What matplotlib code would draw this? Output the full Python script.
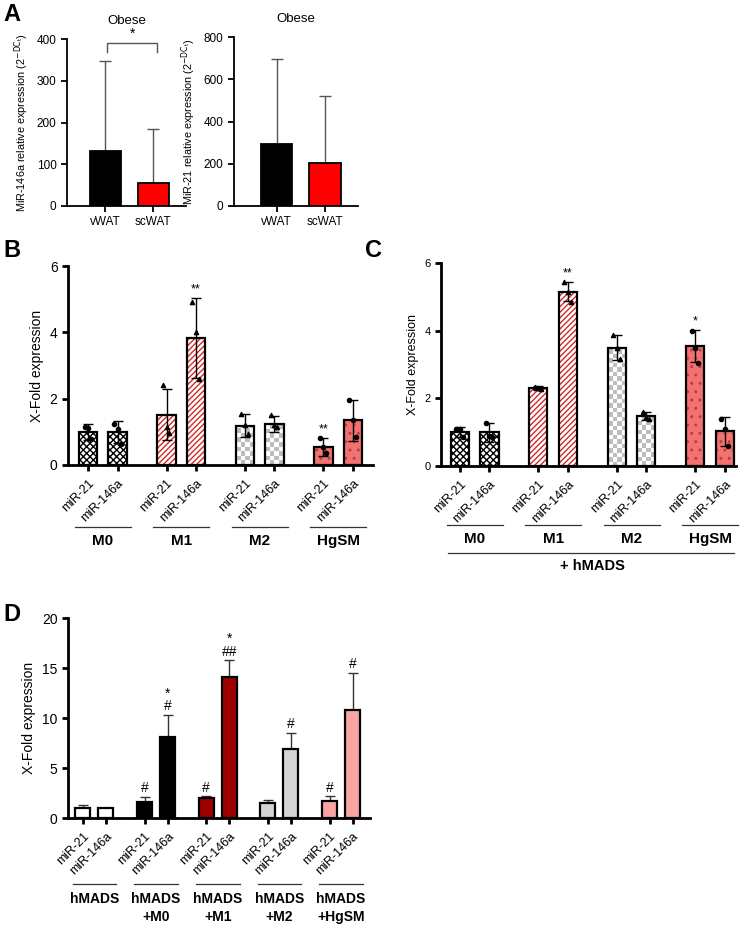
import matplotlib.pyplot as plt
import matplotlib.transforms as mtransforms
import numpy as np

plt.rcParams['font.family'] = ['Liberation Sans', 'DejaVu Sans']
plt.rcParams['hatch.linewidth'] = 1.0

W, H = 746, 926

# ---- panel A data (obese patients)
tissues = ['vWAT', 'scWAT']
a_colors = ['black', '#ff0000']
mir146_obese = [132, 55]
mir146_obese_err = [215, 130]
mir21_obese = [295, 205]
mir21_obese_err = [400, 315]

# ---- panel B / C data (macrophage conditioned)
mirs = ['miR-21', 'miR-146a']
cells = ['M0', 'M1', 'M2', 'HgSM']
b_mean = [[1.0, 1.0], [1.52, 3.83], [1.18, 1.25], [0.55, 1.35]]
b_sd = [[0.24, 0.33], [0.77, 1.2], [0.35, 0.24], [0.27, 0.62]]
b_pts = [[[1.14, 1.13, 0.77], [1.25, 1.1, 0.62]],
         [[2.4, 1.15, 0.95], [4.9, 4.0, 2.6]],
         [[1.55, 1.2, 0.92], [1.5, 1.2, 1.15]],
         [[0.8, 0.55, 0.35], [1.97, 1.35, 0.85]]]
b_stars = [['', ''], ['', '**'], ['', ''], ['**', '']]

c_mean = [[1.0, 1.0], [2.3, 5.15], [3.5, 1.48], [3.55, 1.02]]
c_sd = [[0.15, 0.28], [0.05, 0.28], [0.37, 0.13], [0.48, 0.43]]
c_pts = [[[1.1, 1.1, 0.85], [1.28, 0.9, 0.85]],
         [[2.33, 2.3, 2.28], [5.45, 5.15, 4.85]],
         [[3.87, 3.5, 3.15], [1.6, 1.45, 1.4]],
         [[4.0, 3.5, 3.05], [1.4, 1.1, 0.6]]]
c_stars = [['', ''], ['', '**'], ['', ''], ['*', '']]

# ---- panel D data (hMADS co-culture)
d_groups = ['hMADS', 'hMADS\n+M0', 'hMADS\n+M1', 'hMADS\n+M2', 'hMADS\n+HgSM']
d_colors = ['white', 'black', '#9e0000', '#d4d4d4', '#f9a3a3']
d_mean = [[1.0, 1.0], [1.6, 8.1], [2.0, 14.1], [1.55, 6.9], [1.75, 10.8]]
d_err = [[0.3, 0.05], [0.55, 2.2], [0.2, 1.7], [0.3, 1.6], [0.45, 3.7]]
d_marks = [['', ''], ['#', '*\n#'], ['#', '*\n##'], ['', '#'], ['#', '#']]

cell_style = {
    'M0': dict(face='white', hatch='xxxxx', hc='black', marker='o'),
    'M1': dict(face='white', hatch='//////', hc='#d02a2a', marker='^'),
    'M2': dict(face='white', hatch=None, hc='#a8a8a8', marker='^'),
    'HgSM': dict(face='#f27272', hatch='..', hc='#b84040', marker='o'),
}

fig = plt.figure(figsize=(W / 100, H / 100), dpi=100)


def axes_px(x0, y0, x1, y1):
    return fig.add_axes([x0 / W, 1 - y1 / H, (x1 - x0) / W, (y1 - y0) / H])


def fy(ypx):
    return 1 - ypx / H


def style_axes(ax, lw=1.5, fs=8):
    for s in ['top', 'right']:
        ax.spines[s].set_visible(False)
    for s in ['left', 'bottom']:
        ax.spines[s].set_linewidth(lw)
    ax.tick_params(width=lw, length=4, labelsize=fs)


def checker(ax, patch, px_per_x, px_per_y, sq=4.5):
    # grey / white checkerboard fill clipped to the bar
    x0, y0 = patch.get_x(), patch.get_y()
    w, h = patch.get_width(), patch.get_height()
    nx = max(1, int(round(w * px_per_x / sq)))
    ny = max(1, int(round(h * px_per_y / sq)))
    pat = np.indices((ny, nx)).sum(axis=0) % 2
    im = ax.imshow(pat, cmap=plt.matplotlib.colors.ListedColormap(['white', '#bdbdbd']),
                   extent=(x0, x0 + w, y0, y0 + ny * sq / px_per_y), origin='lower',
                   interpolation='nearest', aspect='auto', zorder=2)
    im.set_clip_path(patch)


# ================= A
for i, (vals, err, top, step, lab, box) in enumerate([
        (mir146_obese, mir146_obese_err, 400, 100, 'MiR-146a', (67, 39, 186, 206)),
        (mir21_obese, mir21_obese_err, 800, 200, 'MiR-21', (234, 37, 358, 206))]):
    ax = axes_px(*box)
    x = np.arange(len(tissues))
    ax.bar(x, vals, 0.65, color=a_colors, edgecolor='black', linewidth=1.3, zorder=2)
    ax.errorbar(x, vals, yerr=[[0, 0], err], fmt='none', ecolor='#555555',
                elinewidth=1, capsize=4, capthick=1, zorder=1)
    ax.set_ylim(0, top)
    ax.set_yticks(np.arange(0, top + 1, step))
    ax.set_xticks(x)
    ax.set_xticklabels(tissues)
    ax.set_xlim(-0.8 if i == 0 else -0.88, 1.68)
    style_axes(ax, lw=1.3, fs=8.5)
    ax.set_title('Obese', fontsize=9.5, pad=11)
    ax.set_ylabel(lab + r' relative expression (2$^{\mathrm{-DC_t}}$)', fontsize=7.8,
                  labelpad=4)
    if i == 0:
        ax.plot([0.04, 0.04, 1.08, 1.08], [368, 390, 390, 368], color='#555555',
                lw=1, clip_on=False)
        ax.text(0.56, 396, '*', ha='center', va='bottom', fontsize=10)

fig.text(3 / W, fy(3), 'A', fontsize=17, fontweight='bold', va='top')


# ================= B and C
def macro_panel(ax, mean, sd, pts, stars, xlim, ylabel_fs, tick_fs, box):
    gap = 2.66
    ax.set_xlim(*xlim)
    ax.set_ylim(0, 6)
    ppx = (box[2] - box[0]) / (xlim[1] - xlim[0])
    ppy = (box[3] - box[1]) / 6
    xs_all = []
    for g, cell in enumerate(cells):
        st = cell_style[cell]
        for j in range(2):
            x = g * gap + j
            xs_all.append(x)
            if st['hatch'] is None:
                bars = ax.bar(x, mean[g][j], 0.62, color='none', linewidth=0, zorder=2)
                checker(ax, bars[0], ppx, ppy)
            else:
                ax.bar(x, mean[g][j], 0.62, color=st['face'], edgecolor=st['hc'],
                       hatch=st['hatch'], linewidth=0, zorder=2)
            ax.bar(x, mean[g][j], 0.62, color='none', edgecolor='black',
                   linewidth=1.6, zorder=3)
            ax.errorbar(x, mean[g][j], yerr=sd[g][j], fmt='none', ecolor='black',
                        elinewidth=1, capsize=3.5, capthick=1, zorder=4)
            ax.scatter(x + np.array([-0.12, 0.0, 0.1]), pts[g][j], s=9,
                       marker=st['marker'], color='black', zorder=5)
            if stars[g][j]:
                ax.text(x, mean[g][j] + sd[g][j] + 0.08, stars[g][j],
                        ha='center', va='bottom', fontsize=9)
    ax.set_xticks(xs_all)
    ax.set_xticklabels(mirs * len(cells), rotation=45, ha='right',
                       rotation_mode='anchor')
    ax.set_yticks([0, 2, 4, 6])
    style_axes(ax, lw=2, fs=tick_fs)
    ax.tick_params(axis='x', labelsize=9, pad=5)
    ax.set_ylabel('X-Fold expression', fontsize=ylabel_fs)
    return gap


boxB = (68, 266, 373, 465)
axB = axes_px(*boxB)
gap = macro_panel(axB, b_mean, b_sd, b_pts, b_stars, (-0.68, 9.66), 10, 10, boxB)
trB = mtransforms.blended_transform_factory(axB.transData, fig.transFigure)
for g, cell in enumerate(cells):
    c = g * gap + 0.5
    axB.plot([c - 0.95, c + 0.95], [fy(527), fy(527)], color='#333333', lw=0.9,
             transform=trB, clip_on=False)
    axB.text(c, fy(541), cell, transform=trB, ha='center', va='center',
             fontsize=11, fontweight='bold')
fig.text(3 / W, fy(239), 'B', fontsize=17, fontweight='bold', va='top')

boxC = (441, 263, 736, 466)
axC = axes_px(*boxC)
gap = macro_panel(axC, c_mean, c_sd, c_pts, c_stars, (-0.64, 9.36), 9, 8, boxC)
trC = mtransforms.blended_transform_factory(axC.transData, fig.transFigure)
for g, cell in enumerate(cells):
    c = g * gap + 0.5
    axC.plot([c - 0.95, c + 0.95], [fy(525), fy(525)], color='#333333', lw=0.9,
             transform=trC, clip_on=False)
    axC.text(c, fy(539), cell, transform=trC, ha='center', va='center',
             fontsize=11, fontweight='bold')
axC.plot([-0.4, 3 * gap + 1.3], [fy(553), fy(553)], color='#333333', lw=0.9,
         transform=trC, clip_on=False)
axC.text((3 * gap + 1) / 2, fy(566), '+ hMADS', transform=trC, ha='center',
         va='center', fontsize=10.5, fontweight='bold')
fig.text(365 / W, fy(239), 'C', fontsize=17, fontweight='bold', va='top')

# ================= D
axD = axes_px(68, 618, 370, 818)
dgap = 2.68
xsD = []
for g in range(len(d_groups)):
    for j in range(2):
        x = g * dgap + j
        xsD.append(x)
        axD.bar(x, d_mean[g][j], 0.65, color=d_colors[g], edgecolor='black',
                linewidth=1.6, zorder=2)
        axD.errorbar(x, d_mean[g][j], yerr=[[0], [d_err[g][j]]], fmt='none',
                     ecolor='#333333', elinewidth=1, capsize=3.5, capthick=1, zorder=1)
        if d_marks[g][j]:
            axD.text(x, d_mean[g][j] + d_err[g][j] + 0.15, d_marks[g][j],
                     ha='center', va='bottom', fontsize=10, linespacing=0.85)
axD.set_xticks(xsD)
axD.set_xticklabels(mirs * len(d_groups), rotation=45, ha='right',
                    rotation_mode='anchor')
axD.set_xlim(-0.65, 12.48)
axD.set_ylim(0, 20)
axD.set_yticks([0, 5, 10, 15, 20])
style_axes(axD, lw=2, fs=10)
axD.tick_params(axis='x', labelsize=9, pad=5)
axD.set_ylabel('X-Fold expression', fontsize=10)
trD = mtransforms.blended_transform_factory(axD.transData, fig.transFigure)
for g, lab in enumerate(d_groups):
    c = g * dgap + 0.5
    axD.plot([c - 0.95, c + 0.95], [fy(884), fy(884)], color='#333333', lw=0.9,
             transform=trD, clip_on=False)
    axD.text(c, fy(892), lab, transform=trD, ha='center', va='top',
             fontsize=10, fontweight='bold', linespacing=1.4)
fig.text(3 / W, fy(603), 'D', fontsize=17, fontweight='bold', va='top')

fig.savefig('out.png', dpi=100)
